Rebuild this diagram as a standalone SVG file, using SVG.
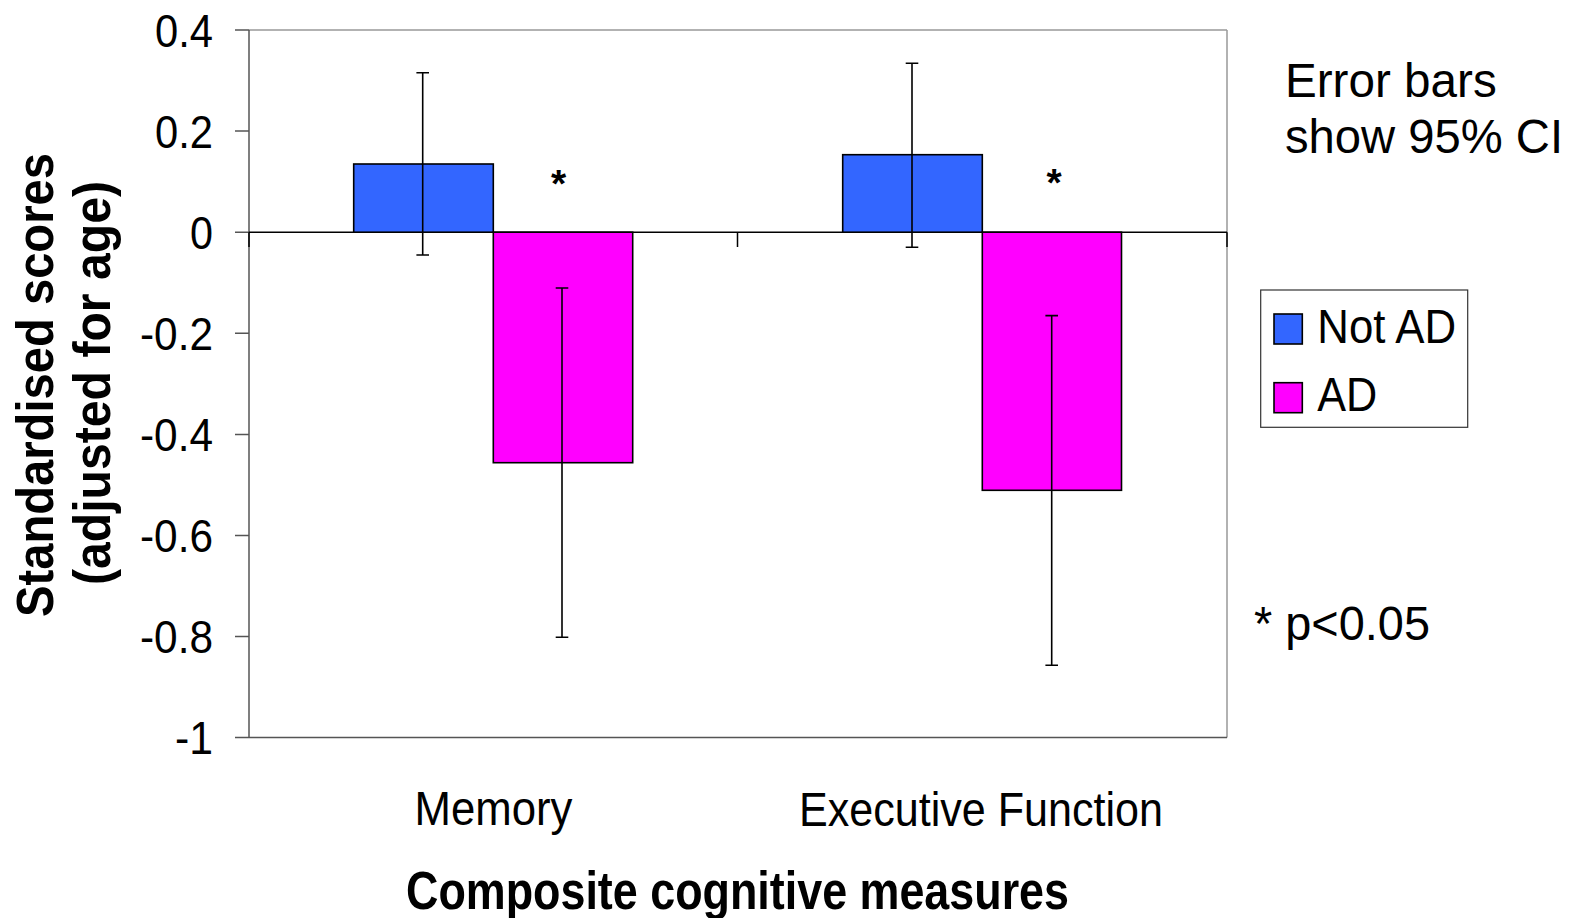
<svg xmlns="http://www.w3.org/2000/svg" width="1581" height="918" viewBox="0 0 1581 918">
  <style>
    text { font-family: "Liberation Sans", Arial, sans-serif; fill: #000; }
    .tick { font-size: 46px; text-anchor: end; }
    .cat { font-size: 48px; text-anchor: middle; }
    .title { font-weight: bold; text-anchor: middle; }
    .note { font-size: 48px; }
    .star { font-size: 39px; font-weight: bold; text-anchor: middle; }
    .notad { fill: #3366FF; stroke: #000; stroke-width: 1.6; }
    .ad { fill: #FF00FF; stroke: #000; stroke-width: 1.6; }
    .err { stroke: #000; stroke-width: 1.6; fill: none; }
    .grid { stroke: #999; stroke-width: 1.5; fill: none; }
    .axis { stroke: #555; stroke-width: 1.5; fill: none; }
  </style>
  <rect width="1581" height="918" fill="#fff"/>

  <!-- plot frame -->
  <g id="frame">
    <line class="grid" x1="249" y1="30" x2="1227" y2="30"/>
    <line class="grid" x1="1227" y1="30" x2="1227" y2="737.6"/>
    <line class="axis" x1="249" y1="737.6" x2="1227" y2="737.6" stroke="#777"/>
    <line class="axis" x1="249" y1="30" x2="249" y2="737.6"/>
    <!-- y ticks -->
    <path class="axis" d="M235 30H249M235 131.1H249M235 232.2H249M235 333.3H249M235 434.4H249M235 535.4H249M235 636.5H249M235 737.6H249"/>
    <!-- zero line and category ticks -->
    <line x1="249" y1="232.2" x2="1227" y2="232.2" stroke="#000" stroke-width="1.5"/>
    <path d="M249 232.2V247M737.5 232.2V247M1227 232.2V247" stroke="#000" stroke-width="1.5"/>
  </g>

  <!-- y tick labels -->
  <g id="y-labels">
    <text class="tick" x="213" y="46.5" textLength="58" lengthAdjust="spacingAndGlyphs">0.4</text>
    <text class="tick" x="213" y="147.6" textLength="58" lengthAdjust="spacingAndGlyphs">0.2</text>
    <text class="tick" x="213" y="248.7" textLength="23" lengthAdjust="spacingAndGlyphs">0</text>
    <text class="tick" x="213" y="349.8" textLength="73" lengthAdjust="spacingAndGlyphs">-0.2</text>
    <text class="tick" x="213" y="450.9" textLength="73" lengthAdjust="spacingAndGlyphs">-0.4</text>
    <text class="tick" x="213" y="551.9" textLength="73" lengthAdjust="spacingAndGlyphs">-0.6</text>
    <text class="tick" x="213" y="653" textLength="73" lengthAdjust="spacingAndGlyphs">-0.8</text>
    <text class="tick" x="213" y="754.1" textLength="38" lengthAdjust="spacingAndGlyphs">-1</text>
  </g>

  <!-- Memory group -->
  <g id="memory">
    <rect class="notad" x="353.7" y="164" width="139.6" height="68.2"/>
    <rect class="ad" x="493.3" y="232.2" width="139.4" height="230.5"/>
  </g>

  <!-- Executive Function group -->
  <g id="executive">
    <rect class="notad" x="842.7" y="154.7" width="139.6" height="77.5"/>
    <rect class="ad" x="982.3" y="232.2" width="139.2" height="258.1"/>
  </g>

  <!-- 95% CI error bars -->
  <g id="error-bars" class="err">
    <path d="M422.7 72.7V255M416.4 72.7H429M416.4 255H429"/>
    <path d="M562 288V637.3M555.7 288H568.3M555.7 637.3H568.3"/>
    <path d="M912 63.3V247.3M905.7 63.3H918.3M905.7 247.3H918.3"/>
    <path d="M1051.7 315.6V665.3M1045.4 315.6H1058M1045.4 665.3H1058"/>
  </g>

  <!-- significance markers -->
  <g id="stars">
    <text class="star" x="558.5" y="197">*</text>
    <text class="star" x="1054" y="196">*</text>
  </g>

  <!-- category labels -->
  <g id="x-labels">
    <text class="cat" x="493.5" y="825" textLength="158" lengthAdjust="spacingAndGlyphs">Memory</text>
    <text class="cat" x="981" y="825.5" textLength="364" lengthAdjust="spacingAndGlyphs">Executive Function</text>
  </g>

  <!-- axis titles -->
  <g id="x-title">
    <text class="title" x="737.5" y="909" font-size="53" textLength="663" lengthAdjust="spacingAndGlyphs">Composite cognitive measures</text>
  </g>
  <g id="y-title">
    <text class="title" font-size="52" transform="translate(52.7,385) rotate(-90)" textLength="464" lengthAdjust="spacingAndGlyphs">Standardised scores</text>
    <text class="title" font-size="52" transform="translate(110,383) rotate(-90)" textLength="404" lengthAdjust="spacingAndGlyphs">(adjusted for age)</text>
  </g>

  <!-- notes -->
  <g id="notes">
    <text class="note" x="1285" y="96.7" textLength="211.7" lengthAdjust="spacingAndGlyphs">Error bars</text>
    <text class="note" x="1285" y="153" textLength="278" lengthAdjust="spacingAndGlyphs">show 95% CI</text>
    <text class="note" x="1254" y="639.5" font-size="46" textLength="176" lengthAdjust="spacingAndGlyphs">* p&lt;0.05</text>
  </g>

  <!-- legend -->
  <g id="legend">
    <rect x="1260.7" y="290" width="207" height="137.3" fill="#fff" stroke="#333" stroke-width="1.2"/>
    <rect class="notad" x="1274" y="314" width="28.3" height="30"/>
    <rect class="ad" x="1274" y="382.7" width="28.3" height="30"/>
    <text class="note" x="1317.3" y="342.7" textLength="138.7" lengthAdjust="spacingAndGlyphs">Not AD</text>
    <text class="note" x="1317.3" y="411" textLength="60" lengthAdjust="spacingAndGlyphs">AD</text>
  </g>
</svg>
